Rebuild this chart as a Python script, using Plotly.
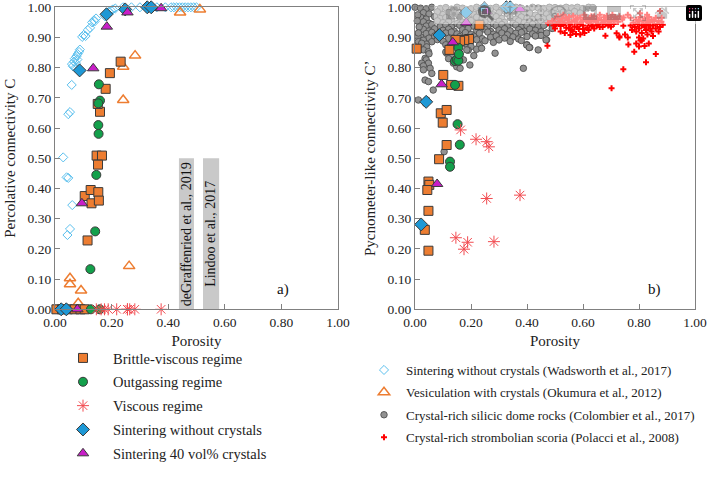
import plotly.graph_objects as go

# ---------------- DATA ----------------
# Brittle-viscous regime
bv_por_a = [0.232, 0.194, 0.179, 0.159, 0.151, 0.147, 0.166, 0.152, 0.105, 0.126, 0.153, 0.129, 0.155, 0.115,
            0.005, 0.025, 0.045, 0.07, 0.09, 0.105]
bv_c_a = [0.820, 0.782, 0.730, 0.654, 0.680, 0.509, 0.509, 0.479, 0.375, 0.395, 0.388, 0.351, 0.360, 0.228,
          0, 0, 0, 0, 0, 0]
bv_por_b = [0.230, 0.193, 0.176, 0.161, 0.145, 0.123, 0.006, 0.101, 0.129, 0.155, 0.092, 0.113, 0.099, 0.113,
            0.086, 0.048, 0.051, 0.044, 0.048, 0.035, 0.048]
bv_c_b = [0.942, 0.895, 0.892, 0.889, 0.892, 0.859, 0.863, 0.776, 0.743, 0.740, 0.649, 0.660, 0.618, 0.544,
          0.497, 0.423, 0.412, 0.395, 0.326, 0.263, 0.194]

# Outgassing regime
og_por_a = [0.155, 0.159, 0.153, 0.153, 0.154, 0.146, 0.142, 0.125, 0.127, 0.158]
og_c_a = [0.745, 0.691, 0.682, 0.610, 0.581, 0.445, 0.258, 0.133, 0, 0]
og_por_b = [0.125, 0.125, 0.143, 0.143, 0.149, 0.152, 0.155, 0.155, 0.157, 0.160]
og_c_b = [0.489, 0.472, 0.743, 0.822, 0.826, 0.613, 0.866, 0.823, 0.845, 0.545]

# Viscous regime
vi_por = [0.146, 0.163, 0.175, 0.188, 0.218, 0.256, 0.256, 0.264, 0.282, 0.375]
vi_c_a = [0, 0, 0, 0, 0, 0, 0, 0, 0, 0]
vi_c_b = [0.237, 0.594, 0.199, 0.222, 0.563, 0.555, 0.367, 0.538, 0.224, 0.378]

# Sintering without crystals (this study)
sw_por = [0.022, 0.040, 0.087, 0.182, 0.248, 0.326, 0.340]
sw_c_a = [0, 0, 0.791, 0.977, 0.993, 1.0, 1.0]
sw_c_b = [0.281, 0.687, 0.908, 0.983, 0.997, 1.0, 1.0]

# Sintering 40 vol% crystals
sc_por = [0.079, 0.095, 0.135, 0.183, 0.256, 0.375]
sc_c_a = [0, 0.351, 0.798, 0.936, 0.983, 0.997]
sc_c_b = [0.415, 0.745, 0.884, 0.949, 0.986, 0.994]

# Wadsworth et al., 2017
wad_por = [0.029, 0.041, 0.047, 0.061, 0.044, 0.053, 0.047, 0.053, 0.059,
           0.060, 0.063, 0.067, 0.070, 0.074, 0.076, 0.080, 0.085, 0.088, 0.072, 0.079,
           0.096, 0.101, 0.108, 0.116, 0.124, 0.131, 0.138, 0.145, 0.140,
           0.177, 0.183, 0.190, 0.198, 0.205, 0.213,
           0.24, 0.27, 0.30, 0.34, 0.36, 0.39, 0.41, 0.42, 0.43, 0.44, 0.45, 0.46, 0.47, 0.48, 0.49, 0.50]
wad_c = [0.503, 0.437, 0.435, 0.345, 0.246, 0.266, 0.646, 0.653, 0.743,
         0.812, 0.805, 0.820, 0.830, 0.815, 0.838, 0.845, 0.852, 0.860, 0.800, 0.827,
         0.902, 0.908, 0.905, 0.925, 0.932, 0.950, 0.957, 0.963, 0.953,
         0.970, 0.978, 0.985, 0.990, 0.993, 0.996,
         1.0, 1.0, 1.0, 0.998, 1.0, 1.0, 1.0, 1.0, 1.0, 1.0, 1.0, 1.0, 1.0, 1.0, 1.0, 1.0]

# Okumura et al., 2012
oku_por = [0.053, 0.053, 0.092, 0.082, 0.262, 0.241, 0.241, 0.283, 0.442, 0.512]
oku_c = [0.103, 0.083, 0.062, 0.020, 0.143, 0.693, 0.803, 0.840, 0.983, 0.993]

# Colombier et al., 2017
col_por = [
    0.00, 0.02, 0.04, 0.06, 0.09, 0.11, 0.13, 0.15, 0.17, 0.20, 0.22, 0.24, 0.27, 0.29, 0.31, 0.34, 0.36, 0.38, 0.40, 0.42,
    0.44, 0.46, 0.48, 0.50, 0.52, 0.54, 0.56, 0.58, 0.60, 0.62, 0.635,
    0.03, 0.05, 0.08, 0.10, 0.12, 0.14, 0.18, 0.21, 0.23, 0.26, 0.28, 0.30, 0.33, 0.35, 0.37, 0.39, 0.41, 0.43, 0.45, 0.47,
    0.49, 0.51, 0.53, 0.55, 0.57, 0.59,
    0.02, 0.04, 0.07, 0.09, 0.11, 0.13, 0.16, 0.19, 0.22, 0.24, 0.27, 0.29, 0.31, 0.34, 0.36, 0.38, 0.40, 0.42, 0.44, 0.46,
    0.48, 0.50, 0.52,
    0.03, 0.05, 0.08, 0.10, 0.12, 0.15, 0.17, 0.20, 0.23, 0.25, 0.28, 0.30, 0.32, 0.35, 0.37, 0.39, 0.41, 0.43, 0.45, 0.47, 0.51,
    0.04, 0.06, 0.09, 0.11, 0.13, 0.16, 0.18, 0.21, 0.24, 0.26, 0.29, 0.31, 0.33, 0.36, 0.38, 0.40, 0.42, 0.44, 0.46, 0.49,
    0.03, 0.05, 0.07, 0.10, 0.12, 0.14, 0.17, 0.19, 0.22, 0.25, 0.27, 0.30, 0.32, 0.34, 0.37, 0.39, 0.41, 0.43, 0.45,
    0.04, 0.06, 0.08, 0.11, 0.13, 0.15, 0.18, 0.20, 0.23, 0.26, 0.28, 0.31, 0.33, 0.36, 0.38, 0.42, 0.44,
    0.02, 0.05, 0.07, 0.09, 0.12, 0.16, 0.19, 0.21, 0.24, 0.27, 0.29, 0.32, 0.35, 0.37, 0.40, 0.45,
    0.03, 0.06, 0.08, 0.10, 0.14, 0.17, 0.22, 0.25, 0.28, 0.30, 0.34, 0.38, 0.47,
    0.01, 0.04, 0.11, 0.18, 0.23, 0.40, 0.012, 0.024,
    0.042, 0.12, 0.20, 0.41, 0.44,
    0.03, 0.048, 0.113, 0.19, 0.22, 0.238,
    0.05, 0.11, 0.185, 0.286,
    0.036, 0.131, 0.21,
    0.04, 0.12, 0.173,
    0.024, 0.048, 0.137, 0.196,
    0.03, 0.054, 0.149, 0.161, 0.387,
    0.03, 0.06, 0.036, 0.048, 0.065, 0.012, 0.042, 0.038, 0.104,
    0.01, 0.008, 0.015, 0.012, 0.49, 0.52, 0.53, 0.55, 0.47, 0.43, 0.399, 0.408, 0.468,
]
col_c = [
    1.00, 0.997, 0.995, 1.00, 0.996, 0.999, 0.994, 1.00, 0.997, 0.995, 1.00, 0.998, 0.996, 1.00, 0.995, 0.999, 1.00, 0.997, 0.994, 1.00,
    0.998, 0.996, 1.00, 0.999, 0.997, 1.00, 0.998, 1.00, 0.996, 1.00, 0.999,
    0.982, 0.978, 0.985, 0.976, 0.983, 0.979, 0.986, 0.977, 0.981, 0.984, 0.975, 0.982, 0.979, 0.986, 0.976, 0.983, 0.980, 0.974, 0.985, 0.978,
    0.982, 0.976, 0.984, 0.979, 0.986, 0.981,
    0.967, 0.961, 0.969, 0.963, 0.966, 0.960, 0.968, 0.962, 0.967, 0.964, 0.960, 0.969, 0.963, 0.966, 0.961, 0.968, 0.964, 0.960, 0.967, 0.962,
    0.965, 0.969, 0.958,
    0.952, 0.947, 0.955, 0.949, 0.953, 0.946, 0.951, 0.956, 0.948, 0.952, 0.945, 0.954, 0.950, 0.947, 0.955, 0.949, 0.952, 0.946, 0.953, 0.948, 0.950,
    0.938, 0.943, 0.936, 0.941, 0.935, 0.940, 0.944, 0.937, 0.942, 0.935, 0.939, 0.943, 0.936, 0.941, 0.934, 0.939, 0.944, 0.937, 0.940, 0.945,
    0.927, 0.922, 0.929, 0.924, 0.928, 0.921, 0.926, 0.930, 0.923, 0.927, 0.920, 0.925, 0.929, 0.922, 0.926, 0.921, 0.928, 0.924, 0.919,
    0.913, 0.917, 0.911, 0.915, 0.918, 0.912, 0.916, 0.910, 0.914, 0.918, 0.911, 0.915, 0.909, 0.914, 0.917, 0.912, 0.908,
    0.902, 0.898, 0.905, 0.900, 0.897, 0.903, 0.899, 0.904, 0.896, 0.901, 0.905, 0.898, 0.902, 0.895, 0.903, 0.907,
    0.891, 0.886, 0.893, 0.888, 0.890, 0.885, 0.893, 0.889, 0.884, 0.892, 0.887, 0.890, 0.892,
    0.903, 0.878, 0.876, 0.880, 0.874, 0.876, 0.886, 0.881,
    0.869, 0.866, 0.870, 0.867, 0.859,
    0.859, 0.853, 0.848, 0.858, 0.861, 0.864,
    0.846, 0.852, 0.859, 0.848,
    0.831, 0.837, 0.840,
    0.826, 0.830, 0.826,
    0.815, 0.815, 0.815, 0.809,
    0.806, 0.798, 0.803, 0.798, 0.798,
    0.793, 0.781, 0.759, 0.754, 0.726, 0.693, 0.693, 0.682, 0.522,
    0.975, 0.955, 0.935, 0.915, 0.930, 0.955, 0.965, 0.970, 0.915, 0.905, 0.875, 0.867, 0.892,
]

# Polacci et al., 2008
pol_por = [
    0.475, 0.49, 0.50, 0.505, 0.51, 0.515, 0.52, 0.525, 0.53, 0.535, 0.54, 0.545, 0.55, 0.555, 0.56, 0.56, 0.565, 0.57, 0.575, 0.58,
    0.585, 0.59, 0.595, 0.60, 0.605, 0.61, 0.615, 0.62, 0.625, 0.63, 0.635, 0.64, 0.645, 0.65, 0.655, 0.66, 0.665, 0.67, 0.675, 0.68,
    0.685, 0.69, 0.695, 0.70, 0.705, 0.71, 0.715, 0.72, 0.725, 0.73, 0.74, 0.745,
    0.52, 0.535, 0.555, 0.563, 0.575, 0.59, 0.605, 0.62, 0.64, 0.66, 0.68, 0.70, 0.72, 0.73, 0.744, 0.76, 0.55, 0.58, 0.60, 0.63,
    0.65, 0.69, 0.71,
    0.495, 0.50, 0.52, 0.54, 0.57, 0.59, 0.61, 0.63, 0.655, 0.67, 0.68, 0.70, 0.55, 0.53, 0.58, 0.62, 0.64, 0.60,
    0.804, 0.875, 0.829, 0.76, 0.77,
    0.78, 0.785, 0.79, 0.79, 0.795, 0.80, 0.80, 0.805, 0.81, 0.81, 0.815, 0.82, 0.82, 0.825, 0.825, 0.83, 0.83, 0.835, 0.835, 0.84,
    0.84, 0.845, 0.845, 0.85, 0.85, 0.855, 0.86, 0.86, 0.865, 0.87, 0.87, 0.875, 0.88, 0.881, 0.885, 0.80, 0.805, 0.815, 0.79, 0.80,
    0.81, 0.835, 0.82, 0.77, 0.775,
    0.473, 0.702, 0.744, 0.825, 0.860, 0.783, 0.762, 0.73, 0.75,
]
pol_c = [
    0.947, 0.955, 0.962, 0.945, 0.970, 0.953, 0.938, 0.962, 0.975, 0.948, 0.932, 0.958, 0.968, 0.942, 0.925, 0.952, 0.972, 0.936, 0.960, 0.947,
    0.928, 0.966, 0.953, 0.940, 0.975, 0.958, 0.932, 0.948, 0.965, 0.955, 0.940, 0.970, 0.952, 0.962, 0.945, 0.975, 0.958, 0.948, 0.967, 0.955,
    0.972, 0.960, 0.950, 0.966, 0.975, 0.958, 0.968, 0.962, 0.952, 0.970, 0.960, 0.966,
    0.920, 0.915, 0.908, 0.920, 0.912, 0.910, 0.915, 0.925, 0.930, 0.935, 0.906, 0.936, 0.914, 0.903, 0.939, 0.900, 0.930, 0.935, 0.928, 0.938,
    0.940, 0.940, 0.945,
    0.940, 0.930, 0.955, 0.965, 0.955, 0.945, 0.965, 0.970, 0.960, 0.935, 0.945, 0.955, 0.950, 0.945, 0.965, 0.955, 0.960, 0.955,
    0.980, 0.988, 0.975, 0.975, 0.965,
    0.950, 0.935, 0.960, 0.920, 0.945, 0.930, 0.955, 0.968, 0.940, 0.915, 0.952, 0.935, 0.962, 0.925, 0.945, 0.955, 0.910, 0.940, 0.968, 0.930,
    0.950, 0.920, 0.960, 0.940, 0.905, 0.955, 0.930, 0.965, 0.945, 0.920, 0.955, 0.935, 0.952, 0.965, 0.942, 0.900, 0.890, 0.897, 0.880, 0.870,
    0.890, 0.880, 0.872, 0.940, 0.925,
    0.873, 0.732, 0.795, 0.818, 0.845, 0.853, 0.877, 0.900, 0.910,
]

# Reference study porosity windows (deGraffenried 2019, Lindoo 2017)
study_labels = ["deGraffenried et al., 2019", "Lindoo et al., 2017"]
study_por_min = [0.438, 0.523]
study_por_max = [0.491, 0.580]
study_c_top = [0.50, 0.50]

# ---------------- STYLE ----------------
FONT = "Times New Roman"
ORANGE = "#ED7D31"
GREEN = "#13A04B"
BLUE = "#1E98D5"
MAGENTA = "#C81EC8"
RED_STAR = "#F24B50"
LIGHTBLUE = "#5BC0EE"
EDGE = "#3a3a3a"

fig = go.Figure()


def add(x, y, name, xa, ya, marker, legend, group, show, rank):
    fig.add_trace(go.Scatter(
        x=x, y=y, mode="markers", name=name, xaxis=xa, yaxis=ya,
        marker=marker, legend=legend, legendgroup=group, showlegend=show,
        legendrank=rank, cliponaxis=False, hoverinfo="x+y+name"))


# literature data (drawn first, underneath)
add(col_por, col_c, "Crystal-rich silicic dome rocks (Colombier et al., 2017)", "x2", "y2",
    dict(symbol="circle", size=6.5, color="#929292", line=dict(color="#505050", width=0.9)),
    "legend2", "col", True, 3)
add(pol_por, pol_c, "Crystal-rich strombolian scoria (Polacci et al., 2008)", "x2", "y2",
    dict(symbol="cross", size=5, color="#FF0000", line=dict(width=0)),
    "legend2", "pol", True, 4)
add(wad_por, wad_c, "Sintering without crystals (Wadsworth et al., 2017)", "x", "y",
    dict(symbol="diamond-open", size=7, color=LIGHTBLUE, line=dict(width=1)),
    "legend2", "wad", True, 1)
add(oku_por, oku_c, "Vesiculation with crystals (Okumura et al., 2012)", "x", "y",
    dict(symbol="triangle-up-open", size=10, color=ORANGE, line=dict(width=1.5)),
    "legend2", "oku", True, 2)

# this study
series = [
    ("Brittle-viscous regime", "bv", bv_por_a, bv_c_a, bv_por_b, bv_c_b,
     dict(symbol="square", size=9, color=ORANGE, line=dict(color=EDGE, width=1))),
    ("Outgassing regime", "og", og_por_a, og_c_a, og_por_b, og_c_b,
     dict(symbol="circle", size=9, color=GREEN, line=dict(color=EDGE, width=1))),
    ("Viscous regime", "vi", vi_por, vi_c_a, vi_por, vi_c_b,
     dict(symbol="asterisk-open", size=10, color=RED_STAR, line=dict(color=RED_STAR, width=1))),
    ("Sintering without crystals", "sw", sw_por, sw_c_a, sw_por, sw_c_b,
     dict(symbol="diamond", size=10, color=BLUE, line=dict(color=EDGE, width=1))),
    ("Sintering 40 vol% crystals", "sc", sc_por, sc_c_a, sc_por, sc_c_b,
     dict(symbol="triangle-up", size=10, color=MAGENTA, line=dict(color=EDGE, width=1))),
]
for i, (name, grp, xa_, ya_, xb_, yb_, mk) in enumerate(series):
    add(xa_, ya_, name, "x", "y", mk, "legend", grp, True, i + 1)
    add(xb_, yb_, name, "x2", "y2", mk, "legend", grp, False, i + 1)

# ---------------- LAYOUT ----------------
W, H = 708, 478
tickfont = dict(family=FONT, size=13.5, color="#222")
titlefont = dict(family=FONT, size=15, color="#222")


def xaxis(domain, anchor):
    return dict(domain=domain, anchor=anchor, range=[0, 1], dtick=0.2, tick0=0, tickformat=".2f",
                showgrid=False, zeroline=False, showline=True, linecolor="#808080", linewidth=1.3,
                mirror=True, ticks="inside", ticklen=5, tickcolor="#808080", tickfont=tickfont,
                automargin=False, title=dict(text="Porosity", font=titlefont, standoff=6))


def yaxis(domain, anchor, title):
    return dict(domain=domain, anchor=anchor, range=[0, 1], dtick=0.1, tick0=0, tickformat=".2f",
                showgrid=False, zeroline=False, showline=True, linecolor="#808080", linewidth=1.3,
                mirror=True, ticks="inside", ticklen=5, tickcolor="#808080", tickfont=tickfont,
                automargin=False, title=dict(text=title, font=titlefont, standoff=8))


ydom = [1 - 309.3 / H, 1 - 7.3 / H]
shapes = []
annotations = []
for lab, x0, x1, top in zip(study_labels, study_por_min, study_por_max, study_c_top):
    shapes.append(dict(type="rect", xref="x", yref="y", x0=x0, x1=x1, y0=0, y1=top,
                       fillcolor="#C9C9C9", line=dict(width=0), layer="below"))
    annotations.append(dict(xref="x", yref="y", x=(x0 + x1) / 2, y=top / 2, text=lab, textangle=-90,
                            showarrow=False, font=dict(family=FONT, size=14, color="#111")))
annotations.append(dict(xref="x", yref="y", x=0.806, y=0.067, text="a)", showarrow=False,
                        font=dict(family=FONT, size=15, color="#111")))
annotations.append(dict(xref="x2", yref="y2", x=0.857, y=0.067, text="b)", showarrow=False,
                        font=dict(family=FONT, size=15, color="#111")))

fig.update_layout(
    template="none",
    width=W, height=H, margin=dict(l=0, r=0, t=0, b=0, pad=0, autoexpand=False),
    paper_bgcolor="white", plot_bgcolor="white",
    font=dict(family=FONT, color="#222"),
    xaxis=xaxis([55 / W, 338 / W], "y"),
    yaxis=yaxis(ydom, "x", "Percolative connectivity C"),
    xaxis2=xaxis([415 / W, 695 / W], "y2"),
    yaxis2=yaxis(ydom, "x2", "Pycnometer-like connectivity C’"),
    shapes=shapes, annotations=annotations,
    legend=dict(x=53 / W, y=1 - 342 / H, xanchor="left", yanchor="top", traceorder="grouped",
                tracegroupgap=2, itemwidth=50, itemsizing="trace", bgcolor="rgba(0,0,0,0)",
                borderwidth=0, font=dict(family=FONT, size=14.5, color="#222")),
    legend2=dict(x=362 / W, y=1 - 355 / H, xanchor="left", yanchor="top", traceorder="grouped",
                 tracegroupgap=2.5, itemwidth=34, itemsizing="trace", bgcolor="rgba(0,0,0,0)",
                 borderwidth=0, font=dict(family=FONT, size=13, color="#222")),
    showlegend=True,
)

# remove the browser's default 8px body margin so the figure fills the window exactly
fig.write_html("out.html", post_script="document.body.style.margin='0';document.body.style.overflow='hidden';")
